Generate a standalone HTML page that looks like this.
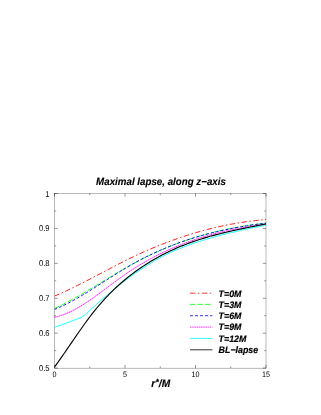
<!DOCTYPE html>
<html><head><meta charset="utf-8"><title>Maximal lapse</title>
<style>html,body{margin:0;padding:0;background:#fff;width:321px;height:415px;overflow:hidden;font-family:"Liberation Sans",sans-serif}</style>
</head><body>
<svg width="321" height="415" viewBox="0 0 321 415" style="position:absolute;left:0;top:0;will-change:transform;opacity:0.999" text-rendering="geometricPrecision">
<rect width="321" height="415" fill="#fff"/>
<rect x="54.5" y="193.5" width="211.50" height="174.60" fill="none" stroke="#000" stroke-width="0.28"/>
<path d="M54.5,368.10h3.2M266.0,368.10h-3.2M54.5,350.64h1.7M266.0,350.64h-1.7M54.5,333.18h3.2M266.0,333.18h-3.2M54.5,315.72h1.7M266.0,315.72h-1.7M54.5,298.26h3.2M266.0,298.26h-3.2M54.5,280.80h1.7M266.0,280.80h-1.7M54.5,263.34h3.2M266.0,263.34h-3.2M54.5,245.88h1.7M266.0,245.88h-1.7M54.5,228.42h3.2M266.0,228.42h-3.2M54.5,210.96h1.7M266.0,210.96h-1.7M54.5,193.50h3.2M266.0,193.50h-3.2M54.50,368.1v-3.2M54.50,193.5v3.2M89.75,368.1v-1.7M89.75,193.5v1.7M125.00,368.1v-3.2M125.00,193.5v3.2M160.25,368.1v-1.7M160.25,193.5v1.7M195.50,368.1v-3.2M195.50,193.5v3.2M230.75,368.1v-1.7M230.75,193.5v1.7M266.00,368.1v-3.2M266.00,193.5v3.2" stroke="#000" stroke-width="0.42" fill="none"/>
<clipPath id="c"><rect x="54.5" y="193.5" width="211.50" height="174.60"/></clipPath>
<g clip-path="url(#c)" fill="none" stroke-width="0.92">
<path d="M54.30,296.16 L56.08,295.41 L57.86,294.64 L59.64,293.87 L61.42,293.07 L63.20,292.27 L64.98,291.45 L66.76,290.63 L68.55,289.79 L70.33,288.94 L72.11,288.08 L73.89,287.21 L75.67,286.34 L77.45,285.45 L79.23,284.56 L81.01,283.66 L82.79,282.76 L84.57,281.85 L86.35,280.93 L88.13,280.01 L89.91,279.08 L91.69,278.15 L93.47,277.22 L95.26,276.29 L97.04,275.35 L98.82,274.42 L100.60,273.48 L102.38,272.54 L104.16,271.60 L105.94,270.67 L107.72,269.73 L109.50,268.80 L111.28,267.87 L113.06,266.94 L114.84,266.01 L116.62,265.09 L118.40,264.18 L120.18,263.27 L121.97,262.37 L123.75,261.47 L125.53,260.58 L127.31,259.70 L129.09,258.83 L130.87,257.96 L132.65,257.10 L134.43,256.26 L136.21,255.42 L137.99,254.59 L139.77,253.77 L141.55,252.96 L143.33,252.16 L145.11,251.37 L146.89,250.58 L148.68,249.81 L150.46,249.05 L152.24,248.29 L154.02,247.54 L155.80,246.81 L157.58,246.08 L159.36,245.36 L161.14,244.65 L162.92,243.95 L164.70,243.26 L166.48,242.58 L168.26,241.91 L170.04,241.24 L171.82,240.59 L173.61,239.94 L175.39,239.31 L177.17,238.68 L178.95,238.07 L180.73,237.46 L182.51,236.86 L184.29,236.27 L186.07,235.70 L187.85,235.13 L189.63,234.57 L191.41,234.02 L193.19,233.47 L194.97,232.94 L196.75,232.42 L198.53,231.91 L200.32,231.40 L202.10,230.91 L203.88,230.43 L205.66,229.95 L207.44,229.49 L209.22,229.03 L211.00,228.58 L212.78,228.15 L214.56,227.72 L216.34,227.30 L218.12,226.90 L219.90,226.50 L221.68,226.11 L223.46,225.73 L225.24,225.36 L227.03,225.00 L228.81,224.65 L230.59,224.31 L232.37,223.98 L234.15,223.66 L235.93,223.35 L237.71,223.05 L239.49,222.75 L241.27,222.47 L243.05,222.20 L244.83,221.94 L246.61,221.68 L248.39,221.44 L250.17,221.21 L251.95,220.98 L253.74,220.77 L255.52,220.56 L257.30,220.37 L259.08,220.19 L260.86,220.01 L262.64,219.85 L264.42,219.69 L266.20,219.55" stroke="#ff0000" stroke-dasharray="5.4 2.5 1.5 2.5"/>
<path d="M54.30,308.51 L56.08,307.71 L57.86,306.88 L59.64,306.03 L61.42,305.17 L63.20,304.28 L64.98,303.38 L66.76,302.46 L68.55,301.53 L70.33,300.58 L72.11,299.61 L73.89,298.63 L75.67,297.64 L77.45,296.64 L79.23,295.62 L81.01,294.60 L82.79,293.56 L84.57,292.52 L86.35,291.47 L88.13,290.41 L89.91,289.34 L91.69,288.27 L93.47,287.20 L95.26,286.12 L97.04,285.03 L98.82,283.95 L100.60,282.86 L102.38,281.78 L104.16,280.69 L105.94,279.60 L107.72,278.52 L109.50,277.44 L111.28,276.36 L113.06,275.29 L114.84,274.22 L116.62,273.16 L118.40,272.10 L120.18,271.05 L121.97,270.01 L123.75,268.98 L125.53,267.96 L127.31,266.95 L129.09,265.95 L130.87,264.96 L132.65,263.99 L134.43,263.03 L136.21,262.08 L137.99,261.14 L139.77,260.22 L141.55,259.31 L143.33,258.41 L145.11,257.52 L146.89,256.65 L148.68,255.79 L150.46,254.94 L152.24,254.10 L154.02,253.28 L155.80,252.46 L157.58,251.66 L159.36,250.87 L161.14,250.10 L162.92,249.33 L164.70,248.58 L166.48,247.83 L168.26,247.10 L170.04,246.39 L171.82,245.68 L173.61,244.98 L175.39,244.30 L177.17,243.62 L178.95,242.96 L180.73,242.31 L182.51,241.67 L184.29,241.05 L186.07,240.43 L187.85,239.82 L189.63,239.23 L191.41,238.64 L193.19,238.07 L194.97,237.51 L196.75,236.96 L198.53,236.42 L200.32,235.88 L202.10,235.37 L203.88,234.86 L205.66,234.36 L207.44,233.87 L209.22,233.39 L211.00,232.92 L212.78,232.47 L214.56,232.02 L216.34,231.58 L218.12,231.16 L219.90,230.74 L221.68,230.33 L223.46,229.94 L225.24,229.55 L227.03,229.17 L228.81,228.81 L230.59,228.45 L232.37,228.10 L234.15,227.76 L235.93,227.44 L237.71,227.12 L239.49,226.81 L241.27,226.51 L243.05,226.22 L244.83,225.93 L246.61,225.66 L248.39,225.40 L250.17,225.15 L251.95,224.90 L253.74,224.67 L255.52,224.44 L257.30,224.22 L259.08,224.01 L260.86,223.81 L262.64,223.62 L264.42,223.44 L266.20,223.26" stroke="#00ff00" stroke-dasharray="5.4 2.2"/>
<path d="M54.30,309.50 L56.08,308.78 L57.86,308.03 L59.64,307.25 L61.42,306.45 L63.20,305.61 L64.98,304.75 L66.76,303.87 L68.55,302.96 L70.33,302.03 L72.11,301.08 L73.89,300.11 L75.67,299.12 L77.45,298.12 L79.23,297.09 L81.01,296.05 L82.79,295.00 L84.57,293.93 L86.35,292.85 L88.13,291.76 L89.91,290.66 L91.69,289.55 L93.47,288.43 L95.26,287.30 L97.04,286.17 L98.82,285.03 L100.60,283.90 L102.38,282.75 L104.16,281.61 L105.94,280.47 L107.72,279.33 L109.50,278.19 L111.28,277.05 L113.06,275.92 L114.84,274.79 L116.62,273.67 L118.40,272.56 L120.18,271.45 L121.97,270.36 L123.75,269.27 L125.53,268.20 L127.31,267.14 L129.09,266.10 L130.87,265.07 L132.65,264.05 L134.43,263.06 L136.21,262.07 L137.99,261.11 L139.77,260.16 L141.55,259.22 L143.33,258.30 L145.11,257.39 L146.89,256.50 L148.68,255.62 L150.46,254.76 L152.24,253.91 L154.02,253.08 L155.80,252.26 L157.58,251.45 L159.36,250.66 L161.14,249.88 L162.92,249.12 L164.70,248.36 L166.48,247.62 L168.26,246.90 L170.04,246.19 L171.82,245.49 L173.61,244.80 L175.39,244.12 L177.17,243.46 L178.95,242.81 L180.73,242.17 L182.51,241.55 L184.29,240.93 L186.07,240.33 L187.85,239.74 L189.63,239.16 L191.41,238.59 L193.19,238.03 L194.97,237.49 L196.75,236.95 L198.53,236.43 L200.32,235.91 L202.10,235.41 L203.88,234.92 L205.66,234.44 L207.44,233.96 L209.22,233.50 L211.00,233.05 L212.78,232.60 L214.56,232.17 L216.34,231.74 L218.12,231.33 L219.90,230.92 L221.68,230.53 L223.46,230.14 L225.24,229.76 L227.03,229.39 L228.81,229.02 L230.59,228.67 L232.37,228.32 L234.15,227.98 L235.93,227.65 L237.71,227.33 L239.49,227.01 L241.27,226.71 L243.05,226.41 L244.83,226.11 L246.61,225.83 L248.39,225.55 L250.17,225.27 L251.95,225.01 L253.74,224.75 L255.52,224.49 L257.30,224.25 L259.08,224.01 L260.86,223.77 L262.64,223.54 L264.42,223.32 L266.20,223.10" stroke="#0000ff" stroke-dasharray="3 2"/>
<path d="M54.30,317.30 L56.08,316.93 L57.86,316.49 L59.64,316.00 L61.42,315.44 L63.20,314.82 L64.98,314.15 L66.76,313.43 L68.55,312.65 L70.33,311.83 L72.11,310.96 L73.89,310.04 L75.67,309.08 L77.45,308.08 L79.23,307.05 L81.01,305.98 L82.79,304.87 L84.57,303.73 L86.35,302.57 L88.13,301.38 L89.91,300.16 L91.69,298.92 L93.47,297.67 L95.26,296.39 L97.04,295.10 L98.82,293.80 L100.60,292.48 L102.38,291.16 L104.16,289.83 L105.94,288.50 L107.72,287.16 L109.50,285.82 L111.28,284.49 L113.06,283.16 L114.84,281.84 L116.62,280.53 L118.40,279.23 L120.18,277.94 L121.97,276.67 L123.75,275.42 L125.53,274.19 L127.31,272.98 L129.09,271.78 L130.87,270.61 L132.65,269.45 L134.43,268.31 L136.21,267.20 L137.99,266.10 L139.77,265.01 L141.55,263.95 L143.33,262.90 L145.11,261.87 L146.89,260.86 L148.68,259.87 L150.46,258.89 L152.24,257.93 L154.02,256.99 L155.80,256.06 L157.58,255.15 L159.36,254.26 L161.14,253.38 L162.92,252.52 L164.70,251.67 L166.48,250.84 L168.26,250.03 L170.04,249.23 L171.82,248.45 L173.61,247.68 L175.39,246.92 L177.17,246.18 L178.95,245.46 L180.73,244.75 L182.51,244.05 L184.29,243.37 L186.07,242.70 L187.85,242.05 L189.63,241.40 L191.41,240.78 L193.19,240.16 L194.97,239.56 L196.75,238.97 L198.53,238.39 L200.32,237.83 L202.10,237.28 L203.88,236.74 L205.66,236.21 L207.44,235.69 L209.22,235.19 L211.00,234.69 L212.78,234.21 L214.56,233.74 L216.34,233.28 L218.12,232.83 L219.90,232.39 L221.68,231.97 L223.46,231.55 L225.24,231.14 L227.03,230.74 L228.81,230.36 L230.59,229.98 L232.37,229.61 L234.15,229.25 L235.93,228.90 L237.71,228.56 L239.49,228.22 L241.27,227.90 L243.05,227.58 L244.83,227.28 L246.61,226.98 L248.39,226.69 L250.17,226.40 L251.95,226.13 L253.74,225.86 L255.52,225.60 L257.30,225.34 L259.08,225.09 L260.86,224.85 L262.64,224.62 L264.42,224.39 L266.20,224.17" stroke="#ff00ff" stroke-dasharray="1.75 0.45"/>
<path d="M54.30,327.40 L55.84,326.87 L57.37,326.33 L58.91,325.80 L60.45,325.26 L61.98,324.72 L63.52,324.18 L65.06,323.63 L66.59,323.08 L68.13,322.52 L69.67,321.95 L71.21,321.38 L72.74,320.80 L74.28,320.20 L75.82,319.60 L77.35,318.99 L78.89,318.36 L80.43,317.72 L81.96,317.07 L85.35,314.71 L87.19,312.98 L89.04,311.27 L90.88,309.56 L92.73,307.87 L94.57,306.20 L96.42,304.53 L98.26,302.88 L100.11,301.25 L101.95,299.63 L103.80,298.02 L105.65,296.43 L107.49,294.85 L109.34,293.29 L111.18,291.74 L113.03,290.21 L114.87,288.69 L116.72,287.20 L118.56,285.72 L120.41,284.26 L122.25,282.82 L124.10,281.41 L125.95,280.01 L127.79,278.64 L129.64,277.28 L131.48,275.95 L133.33,274.63 L135.17,273.34 L137.02,272.06 L138.86,270.80 L140.71,269.56 L142.55,268.33 L144.40,267.13 L146.25,265.95 L148.09,264.79 L149.94,263.65 L151.78,262.54 L153.63,261.44 L155.47,260.37 L157.32,259.33 L159.16,258.31 L161.01,257.31 L162.85,256.34 L164.70,255.39 L166.55,254.47 L168.39,253.57 L170.24,252.69 L172.08,251.84 L173.93,251.02 L175.77,250.21 L177.62,249.43 L179.46,248.67 L181.31,247.93 L183.15,247.21 L185.00,246.50 L186.85,245.81 L188.69,245.14 L190.54,244.48 L192.38,243.84 L194.23,243.21 L196.07,242.58 L197.92,241.98 L199.76,241.38 L201.61,240.79 L203.45,240.21 L205.30,239.64 L207.15,239.08 L208.99,238.53 L210.84,238.00 L212.68,237.47 L214.53,236.95 L216.37,236.43 L218.22,235.93 L220.06,235.44 L221.91,234.95 L223.75,234.47 L225.60,234.00 L227.45,233.54 L229.29,233.08 L231.14,232.63 L232.98,232.19 L234.83,231.76 L236.67,231.33 L238.52,230.91 L240.36,230.49 L242.21,230.08 L244.05,229.68 L245.90,229.28 L247.75,228.89 L249.59,228.50 L251.44,228.12 L253.28,227.74 L255.13,227.36 L256.97,227.00 L258.82,226.63 L260.66,226.27 L262.51,225.91 L264.35,225.56 L266.20,225.21" stroke="#00ffff"/>
<path d="M54.30,367.32 L56.08,364.87 L57.86,362.39 L59.64,359.88 L61.42,357.34 L63.20,354.78 L64.98,352.20 L66.76,349.61 L68.55,347.02 L70.33,344.41 L72.11,341.81 L73.89,339.22 L75.67,336.63 L77.45,334.05 L79.23,331.50 L81.01,328.96 L82.79,326.46 L84.57,323.98 L86.35,321.53 L88.13,319.13 L89.91,316.76 L91.69,314.44 L93.47,312.16 L95.26,309.94 L97.04,307.76 L98.82,305.64 L100.60,303.57 L102.38,301.55 L104.16,299.57 L105.94,297.65 L107.72,295.76 L109.50,293.93 L111.28,292.13 L113.06,290.38 L114.84,288.67 L116.62,287.01 L118.40,285.38 L120.18,283.78 L121.97,282.23 L123.75,280.71 L125.53,279.23 L127.31,277.78 L129.09,276.37 L130.87,274.98 L132.65,273.63 L134.43,272.30 L136.21,271.01 L137.99,269.74 L139.77,268.50 L141.55,267.29 L143.33,266.10 L145.11,264.93 L146.89,263.79 L148.68,262.68 L150.46,261.59 L152.24,260.52 L154.02,259.48 L155.80,258.45 L157.58,257.46 L159.36,256.48 L161.14,255.53 L162.92,254.59 L164.70,253.68 L166.48,252.79 L168.26,251.92 L170.04,251.07 L171.82,250.23 L173.61,249.42 L175.39,248.63 L177.17,247.85 L178.95,247.09 L180.73,246.35 L182.51,245.63 L184.29,244.92 L186.07,244.23 L187.85,243.56 L189.63,242.90 L191.41,242.26 L193.19,241.63 L194.97,241.02 L196.75,240.42 L198.53,239.83 L200.32,239.26 L202.10,238.70 L203.88,238.15 L205.66,237.62 L207.44,237.09 L209.22,236.58 L211.00,236.08 L212.78,235.59 L214.56,235.11 L216.34,234.64 L218.12,234.18 L219.90,233.73 L221.68,233.29 L223.46,232.85 L225.24,232.42 L227.03,232.01 L228.81,231.59 L230.59,231.19 L232.37,230.79 L234.15,230.40 L235.93,230.01 L237.71,229.63 L239.49,229.25 L241.27,228.88 L243.05,228.51 L244.83,228.15 L246.61,227.79 L248.39,227.43 L250.17,227.07 L251.95,226.72 L253.74,226.37 L255.52,226.02 L257.30,225.67 L259.08,225.32 L260.86,224.97 L262.64,224.62 L264.42,224.27 L266.20,223.92" stroke="#000000" stroke-width="1.12"/>
</g>
<g fill="none" stroke-width="0.8">
<path d="M190,293.2H212.4" stroke="#ff0000" stroke-dasharray="5.4 2.5 1.5 2.5"/>
<path d="M190,304.4H212.4" stroke="#00ff00" stroke-dasharray="5.4 2.2"/>
<path d="M190,315.7H212.4" stroke="#0000ff" stroke-dasharray="3 2"/>
<path d="M190,327.1H212.4" stroke="#ff00ff" stroke-dasharray="1.6 0.6"/>
<path d="M190,338.4H212.4" stroke="#00ffff"/>
<path d="M190,349.8H212.4" stroke="#000000"/>
</g>
<g font-family="Liberation Sans, sans-serif" font-weight="bold" font-style="italic" font-size="8.85" fill="#000" stroke="#000" stroke-width="0.18">
<text transform="translate(218.6,296.5) scale(1,1.07)">T=0M</text>
<text transform="translate(218.6,307.7) scale(1,1.07)">T=3M</text>
<text transform="translate(218.6,319.0) scale(1,1.07)">T=6M</text>
<text transform="translate(218.6,330.4) scale(1,1.07)">T=9M</text>
<text transform="translate(218.6,341.7) scale(1,1.07)">T=12M</text>
<text transform="translate(218.6,353.1) scale(1,1.07)">BL−lapse</text>
</g>
<text transform="translate(161,185.1) scale(1,1.07)" text-anchor="middle" stroke="#000" stroke-width="0.12" font-family="Liberation Sans, sans-serif" font-weight="bold" font-style="italic" font-size="9.75" fill="#000">Maximal lapse, along z−axis</text>
<text transform="translate(151.2,387.1) scale(1,1.05)" stroke="#000" stroke-width="0.15" font-family="Liberation Sans, sans-serif" font-weight="bold" font-style="italic" font-size="10.2" fill="#000">r<tspan dx="0.4" dy="-2.2" font-size="8.4">*</tspan><tspan dy="2.2">/M</tspan></text>
<g font-family="Liberation Sans, sans-serif" font-size="7.6" fill="#000">
<text transform="translate(49.6,371.1) scale(1,1.12)" text-anchor="end">0.5</text>
<text transform="translate(49.6,336.2) scale(1,1.12)" text-anchor="end">0.6</text>
<text transform="translate(49.6,301.3) scale(1,1.12)" text-anchor="end">0.7</text>
<text transform="translate(49.6,266.3) scale(1,1.12)" text-anchor="end">0.8</text>
<text transform="translate(49.6,231.4) scale(1,1.12)" text-anchor="end">0.9</text>
<text transform="translate(49.6,196.5) scale(1,1.12)" text-anchor="end">1</text>
<text transform="translate(54.5,376.9) scale(1,1.1)" font-size="7.2" text-anchor="middle">0</text>
<text transform="translate(125.0,376.9) scale(1,1.1)" font-size="7.2" text-anchor="middle">5</text>
<text transform="translate(195.5,376.9) scale(1,1.1)" font-size="7.2" text-anchor="middle">10</text>
<text transform="translate(266.0,376.9) scale(1,1.1)" font-size="7.2" text-anchor="middle">15</text>
</g>
</svg>
</body></html>
